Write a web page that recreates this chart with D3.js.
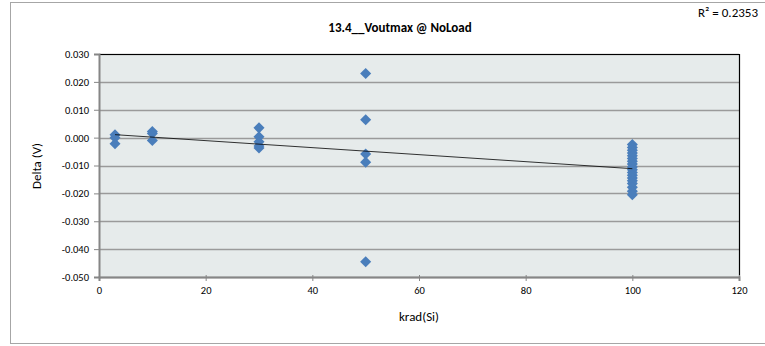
<!DOCTYPE html>
<html>
<head>
<meta charset="utf-8">
<script src="https://cdn.jsdelivr.net/npm/d3@7"></script>
<style>
  body { margin: 0; background: #fff; }
  svg text { font-family: Calibri, Carlito, Lato, "Liberation Sans", sans-serif; fill: #000; }
</style>
</head>
<body>
<div id="chart"></div>
<script>
// dose levels (krad) and measured deltas (V)
var doseX = [3, 3, 3,
             10, 10, 10,
             30, 30, 30, 30, 30,
             50, 50, 50, 50, 50,
             100, 100, 100, 100, 100, 100, 100, 100, 100, 100, 100, 100, 100, 100, 100, 100, 100, 100];
var deltaY = [0.0010, 0.0000, -0.0022,
              0.0022, 0.0015, -0.0010,
              0.0035, 0.0003, -0.0015, -0.0030, -0.0037,
              0.0230, 0.0064, -0.0059, -0.0088, -0.0445,
              -0.0025, -0.0035, -0.0045, -0.0055, -0.0065, -0.0075, -0.0085, -0.0095,
              -0.0105, -0.0115, -0.0125, -0.0135, -0.0145, -0.0155, -0.0165, -0.0178, -0.0192, -0.0205];
var xTicks = [0, 20, 40, 60, 80, 100, 120];
var yTicks = [0.030, 0.020, 0.010, 0.000, -0.010, -0.020, -0.030, -0.040, -0.050];
var titleText = "13.4__Voutmax @ NoLoad";
var r2Text = "R² = 0.2353";

var width = 765, height = 346;
var plot = {left: 99, top: 54, right: 739, bottom: 277};

var svg = d3.select("#chart").append("svg")
    .attr("width", width)
    .attr("height", height);

// outer chart frame
svg.append("rect")
    .attr("x", 10.5).attr("y", 2.5)
    .attr("width", 770).attr("height", 341)
    .attr("fill", "#fff")
    .attr("stroke", "#a6a6a6")
    .attr("stroke-width", 1);

var x = d3.scaleLinear().domain([0, 120]).range([plot.left, plot.right]);
var y = d3.scaleLinear().domain([-0.05, 0.03]).range([plot.bottom, plot.top]);

// plot background
svg.append("rect")
    .attr("x", plot.left).attr("y", plot.top)
    .attr("width", plot.right - plot.left)
    .attr("height", plot.bottom - plot.top)
    .attr("fill", "#e6ebeb");

// gridlines
svg.append("g")
    .selectAll("line")
    .data(yTicks)
    .enter().append("line")
    .attr("x1", plot.left).attr("x2", plot.right)
    .attr("y1", function(d) { return Math.round(y(d)) + 0.5; })
    .attr("y2", function(d) { return Math.round(y(d)) + 0.5; })
    .attr("stroke", "#9a9a9a")
    .attr("stroke-width", 1.3);

// top and right borders
svg.append("path")
    .attr("d", "M" + plot.left + "," + (plot.top + 0.5) + "H" + (plot.right + 0.5) + "V" + plot.bottom)
    .attr("fill", "none")
    .attr("stroke", "#000")
    .attr("stroke-width", 1.2);

// axes
var xAxis = d3.axisBottom(x).tickValues(xTicks).tickSize(4).tickPadding(6);
var yAxis = d3.axisLeft(y).tickValues(yTicks).tickSize(5).tickPadding(5)
    .tickFormat(d3.format(".3f"));

var gx = svg.append("g")
    .attr("transform", "translate(0," + plot.bottom + ")")
    .call(xAxis);
var gy = svg.append("g")
    .attr("transform", "translate(" + plot.left + ",0)")
    .call(yAxis);

[gx, gy].forEach(function(g) {
  g.select(".domain").attr("stroke", "#868686").attr("stroke-width", 2);
  g.selectAll(".tick line").attr("stroke", "#868686");
  g.selectAll(".tick text").attr("font-size", 10.5).attr("fill", "#000");
});
gx.selectAll(".tick line").attr("transform", "translate(0,-2)").attr("y2", 6);
gy.selectAll(".tick text").text(function(d) { return d3.format(".3f")(d).replace("−", "-"); });

// linear trendline (least squares)
var n = doseX.length;
var mx = d3.mean(doseX), my = d3.mean(deltaY);
var sxy = 0, sxx = 0;
for (var i = 0; i < n; i++) {
  sxy += (doseX[i] - mx) * (deltaY[i] - my);
  sxx += (doseX[i] - mx) * (doseX[i] - mx);
}
var slope = sxy / sxx, intercept = my - slope * mx;
var xMin = d3.min(doseX), xMax = d3.max(doseX);

// points
var diamond = d3.symbol().type(d3.symbolDiamond2).size(78);
svg.append("g")
    .selectAll("path")
    .data(doseX.map(function(d, i) { return [d, deltaY[i]]; }))
    .enter().append("path")
    .attr("d", diamond)
    .attr("transform", function(d) { return "translate(" + x(d[0]) + "," + y(d[1]) + ")"; })
    .attr("fill", "#4a7ebb");

svg.append("line")
    .attr("x1", x(xMin)).attr("y1", y(intercept + slope * xMin))
    .attr("x2", x(xMax)).attr("y2", y(intercept + slope * xMax))
    .attr("stroke", "#000")
    .attr("stroke-width", 0.8);

// titles
svg.append("text")
    .attr("x", 400).attr("y", 32)
    .attr("text-anchor", "middle")
    .attr("font-size", 13)
    .attr("font-weight", "bold")
    .text(titleText);

svg.append("text")
    .attr("x", 698).attr("y", 17)
    .attr("font-size", 13)
    .text(r2Text);

svg.append("text")
    .attr("x", 419).attr("y", 321)
    .attr("text-anchor", "middle")
    .attr("font-size", 13)
    .text("krad(Si)");

svg.append("text")
    .attr("transform", "translate(41,166) rotate(-90)")
    .attr("text-anchor", "middle")
    .attr("font-size", 13)
    .text("Delta (V)");
</script>
</body>
</html>
